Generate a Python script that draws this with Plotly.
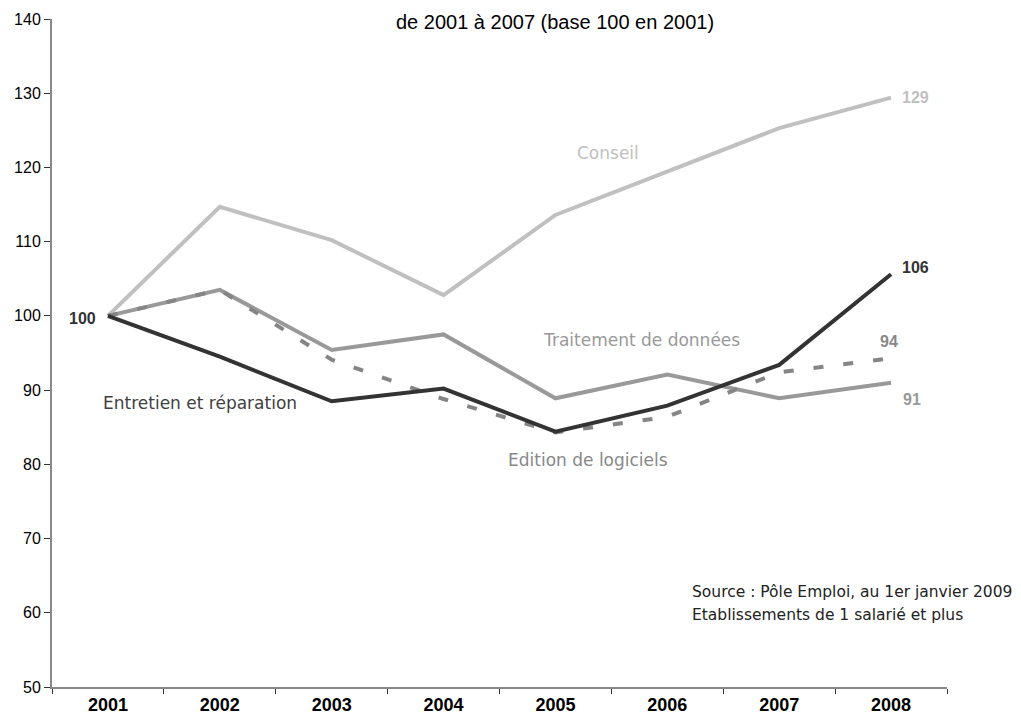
import plotly.graph_objects as go

years = ["2001", "2002", "2003", "2004", "2005", "2006", "2007", "2008"]
conseil = [100, 114.7, 110.2, 102.8, 113.6, 119.5, 125.3, 129.4]
traitement = [100, 103.5, 95.4, 97.5, 88.9, 92.1, 88.9, 91.0]
edition = [100, 103.5, 94.1, 88.8, 84.3, 86.4, 92.4, 94.3]
entretien = [100, 94.5, 88.5, 90.2, 84.4, 87.9, 93.4, 105.6]

title_text = "de 2001 à 2007 (base 100 en 2001)"
source_lines = ["Source : Pôle Emploi, au 1er janvier 2009", "Etablissements de 1 salarié et plus"]

fig = go.Figure()
fig.add_trace(go.Scatter(x=years, y=conseil, mode="lines", line=dict(color="#c0c0c0", width=4), name="Conseil"))
fig.add_trace(go.Scatter(x=years, y=traitement, mode="lines", line=dict(color="#999999", width=4), name="Traitement de données"))
fig.add_trace(go.Scatter(x=years, y=edition, mode="lines", line=dict(color="#858585", width=4, dash="10px,20px"), name="Edition de logiciels"))
fig.add_trace(go.Scatter(x=years, y=entretien, mode="lines", line=dict(color="#333333", width=4), name="Entretien et réparation"))

lab_font = "DejaVu Sans"
num_font = "Liberation Sans, Arial"
ann = []
ann.append(dict(x=4.47, y=122.0, text="Conseil", font=dict(family=lab_font, size=17, color="#bfbfbf")))
ann.append(dict(x=4.77, y=96.8, text="Traitement de données", font=dict(family=lab_font, size=17, color="#999999")))
ann.append(dict(x=4.29, y=80.6, text="Edition de logiciels", font=dict(family=lab_font, size=17, color="#888888")))
ann.append(dict(x=0.82, y=88.3, text="Entretien et réparation", font=dict(family=lab_font, size=17, color="#404040")))
ann.append(dict(x=7, y=conseil[-1], text="<b>%d</b>" % round(conseil[-1]), xanchor="left", xshift=9, font=dict(family=num_font, size=16, color="#bfbfbf")))
ann.append(dict(x=7, y=entretien[-1], text="<b>%d</b>" % round(entretien[-1]), xanchor="left", xshift=9, yshift=7, font=dict(family=num_font, size=16, color="#333333")))
ann.append(dict(x=7, y=edition[-1], text="<b>%d</b>" % round(edition[-1]), xanchor="left", xshift=-13, yshift=17, font=dict(family=num_font, size=16, color="#888888")))
ann.append(dict(x=7, y=traitement[-1], text="<b>%d</b>" % round(traitement[-1]), xanchor="left", xshift=10, yshift=-17, font=dict(family=num_font, size=16, color="#999999")))
ann.append(dict(x=0, y=entretien[0], text="<b>%d</b>" % entretien[0], xanchor="right", xshift=-10, yshift=-3, font=dict(family=num_font, size=16, color="#333333")))
for a in ann:
    a.update(xref="x", yref="y", showarrow=False)
ann.append(dict(x=5.2, y=62.8, xref="x", yref="y", text=source_lines[0], xanchor="left", showarrow=False,
                font=dict(family=lab_font, size=15.5, color="#222222")))
ann.append(dict(x=5.2, y=59.7, xref="x", yref="y", text=source_lines[1], xanchor="left", showarrow=False,
                font=dict(family=lab_font, size=15.5, color="#222222")))
ann.append(dict(x=0.383, y=1.0, xref="paper", yref="paper", text=title_text, xanchor="left", yanchor="bottom",
                yshift=-15, borderpad=0, showarrow=False, font=dict(family="Liberation Sans, Arial", size=20, color="#000000")))

fig.update_layout(
    width=1013, height=712,
    margin=dict(l=44, r=74, t=11, b=33),
    paper_bgcolor="white", plot_bgcolor="white",
    showlegend=False,
    annotations=ann,
    xaxis=dict(type="category", categoryorder="array", categoryarray=years, range=[-0.5, 7.5],
               tickson="boundaries", ticks="outside", ticklen=5, tickcolor="#333333",
               showline=True, linecolor="#888888", linewidth=2, showgrid=False, zeroline=False, automargin=False,
               tickfont=dict(family="Liberation Sans, Arial", size=18, color="#000000"),
               tickprefix="<b>", ticksuffix="</b>"),
    yaxis=dict(range=[50, 140], dtick=10, ticks="outside", ticklen=6, tickcolor="#333333",
               showline=True, linecolor="#888888", linewidth=2, showgrid=False, zeroline=False, automargin=False,
               tickfont=dict(family="Liberation Sans, Arial", size=16, color="#000000")),
)
fig.write_html("out.html")
